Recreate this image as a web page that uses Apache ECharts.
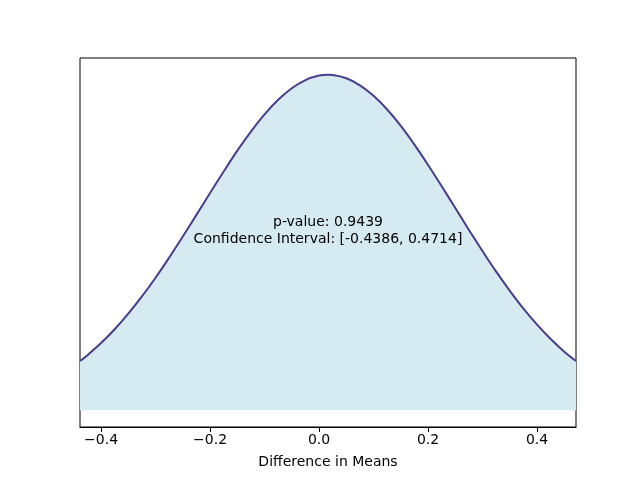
<!DOCTYPE html>
<html>
<head>
<meta charset="utf-8">
<script src="https://cdn.jsdelivr.net/npm/echarts@6/dist/echarts.min.js"></script>
<style>
  html, body { margin: 0; padding: 0; background: #fff; }
  #chart { width: 640px; height: 480px; }
</style>
</head>
<body>
<div id="chart"></div>
<script>
// difference in means (x) and density (y)
var diffX = [-0.4386, -0.425, -0.40, -0.375, -0.35, -0.325, -0.30, -0.275, -0.25, -0.225,
             -0.20, -0.175, -0.15, -0.125, -0.10, -0.075, -0.05, -0.025, 0.0, 0.0164,
             0.025, 0.05, 0.075, 0.10, 0.125, 0.15, 0.175, 0.20, 0.225, 0.25,
             0.275, 0.30, 0.325, 0.35, 0.375, 0.40, 0.425, 0.45, 0.4714];
var density = [0.252, 0.282, 0.344, 0.415, 0.495, 0.583, 0.679, 0.782, 0.890, 1.001,
               1.113, 1.223, 1.330, 1.428, 1.516, 1.591, 1.650, 1.692, 1.715, 1.719,
               1.718, 1.701, 1.665, 1.611, 1.541, 1.457, 1.361, 1.257, 1.148, 1.036,
               0.924, 0.815, 0.710, 0.612, 0.521, 0.439, 0.365, 0.300, 0.252];
var tickValues = [-0.4, -0.2, 0.0, 0.2, 0.4];
var ciLow = -0.4386, ciHigh = 0.4714;
var pValue = 0.9439;

var points = [];
for (var i = 0; i < diffX.length; i++) {
    points.push([diffX[i], density[i]]);
}
var peak = Math.max.apply(null, density);

var chart = echarts.init(document.getElementById('chart'));
chart.setOption({
    animation: false,
    grid: {
        left: 80, right: 64, top: 58, bottom: 53,
        show: true, borderColor: '#000', borderWidth: 1
    },
    xAxis: {
        type: 'value',
        min: ciLow,
        max: ciHigh,
        name: 'Difference in Means',
        nameLocation: 'middle',
        nameGap: 28,
        nameTextStyle: { fontFamily: 'DejaVu Sans', fontSize: 14, color: '#000' },
        axisLine: { show: true, onZero: false, lineStyle: { color: '#000', width: 1 } },
        axisTick: { show: true, length: 5, lineStyle: { color: '#000' }, customValues: tickValues },
        axisLabel: {
            customValues: tickValues,
            fontFamily: 'DejaVu Sans', fontSize: 14, color: '#000', margin: 6,
            formatter: function (v) { return v.toFixed(1).replace('-', '\u2212'); }
        },
        splitLine: { show: false }
    },
    yAxis: {
        type: 'value',
        min: -0.05 * peak,
        max: 1.05 * peak,
        axisLine: { show: false },
        axisTick: { show: false },
        axisLabel: { show: false },
        splitLine: { show: false }
    },
    series: [{
        type: 'line',
        data: points,
        smooth: 0.3,
        symbol: 'none',
        lineStyle: { color: '#483D8B', width: 2 },
        areaStyle: { color: '#d6ebf1', opacity: 1, origin: 0 }
    }]
});

// annotation text in the middle of the curve
var pos = chart.convertToPixel({ gridIndex: 0 }, [(ciLow + ciHigh) / 2, peak * 0.534]);
chart.setOption({
    graphic: [{
        type: 'text',
        z: 100,
        x: pos[0],
        y: pos[1],
        style: {
            text: 'p-value: ' + pValue + '\nConfidence Interval: [' + ciLow + ', ' + ciHigh + ']',
            fill: '#000',
            font: '14px "DejaVu Sans"',
            lineHeight: 17,
            align: 'center',
            verticalAlign: 'middle'
        }
    }]
});
</script>
</body>
</html>
